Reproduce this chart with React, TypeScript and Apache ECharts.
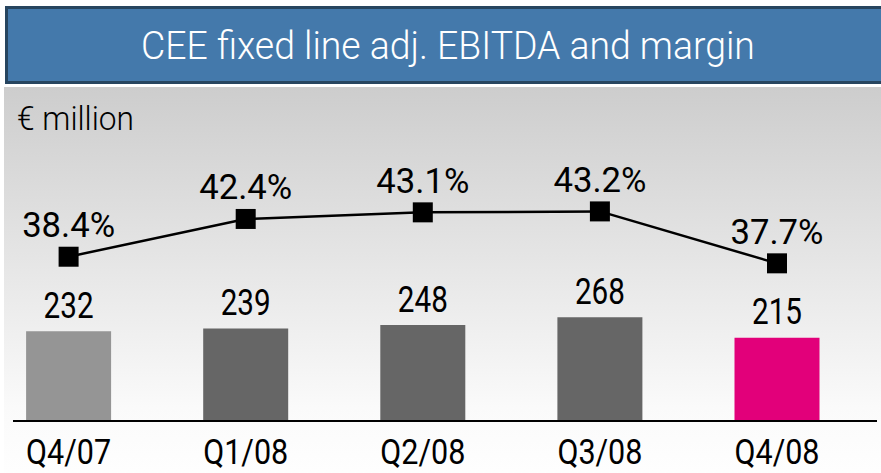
import React, { useEffect, useRef } from "react";
import * as echarts from "echarts";

const categories = ["Q4/07", "Q1/08", "Q2/08", "Q3/08", "Q4/08"];
const ebitda = [232, 239, 248, 268, 215];
const margin = [38.4, 42.4, 43.1, 43.2, 37.7];
const barColors = ["#959595", "#666666", "#666666", "#666666", "#e2007a"];
const titleText = "CEE fixed line adj. EBITDA and margin";
const unitText = "€ million";

const FONT = "Roboto, 'Liberation Sans', sans-serif";
const LABEL_WEIGHT = 400;
const HEAD_WEIGHT = 300;

function measure(text: string, size: number, weight: number): number {
  const c = document.createElement("canvas").getContext("2d")!;
  c.font = `${weight} ${size}px ${FONT}`;
  return c.measureText(text).width || 1;
}

export default function App() {
  const ref = useRef<HTMLDivElement>(null);
  useEffect(() => {
    document.body.style.margin = "0";
    const chart = echarts.init(ref.current!, null, { renderer: "svg" });

    const LBL = 36;
    const barScale = 50 / measure("232", LBL, LABEL_WEIGHT);
    const pctScale = 93 / measure("38.4%", LBL, LABEL_WEIGHT);
    const catScale = 85 / measure("Q1/08", 35, LABEL_WEIGHT);
    const titleScale = 614 / measure(titleText, 39, HEAD_WEIGHT);
    const unitScale = 117 / measure(unitText, 34, HEAD_WEIGHT);

    const textItem = (x: number, y: number, text: string, size: number, scale: number) => ({
      type: "text",
      x,
      y,
      scaleX: scale,
      style: {
        text,
        fill: "#000000",
        font: `${LABEL_WEIGHT} ${size}px ${FONT}`,
        align: "center",
        verticalAlign: "middle",
      },
    });

    chart.setOption({
      animation: false,
      textStyle: { fontFamily: FONT },
      graphic: [
        {
          type: "rect",
          z: -10,
          shape: { x: 4, y: 87, width: 900, height: 400 },
          style: {
            fill: new echarts.graphic.LinearGradient(0, 0, 0, 1, [
              { offset: 0, color: "#cdcdcd" },
              { offset: 0.8, color: "#fafafa" },
              { offset: 1, color: "#ffffff" },
            ]),
          },
        },
        {
          type: "rect",
          z: -5,
          shape: { x: 6.5, y: 7.5, width: 900, height: 75 },
          style: { fill: "#4479ab", stroke: "#27455f", lineWidth: 3 },
        },
        {
          type: "text",
          z: 5,
          x: 448,
          y: 45.5,
          scaleX: titleScale,
          style: {
            text: titleText,
            fill: "#ffffff",
            font: `${HEAD_WEIGHT} 39px ${FONT}`,
            align: "center",
            verticalAlign: "middle",
          },
        },
        {
          type: "text",
          z: 5,
          x: 17,
          y: 118.5,
          scaleX: unitScale,
          style: {
            text: unitText,
            fill: "#000000",
            font: `${HEAD_WEIGHT} 34px ${FONT}`,
            align: "left",
            verticalAlign: "middle",
          },
        },
        {
          type: "line",
          z: 10,
          shape: { x1: 13, y1: 421, x2: 877, y2: 421 },
          style: { stroke: "#000000", lineWidth: 2 },
        },
      ],
      grid: { left: 68.6, right: 104, top: 100, bottom: 52 },
      xAxis: {
        type: "category",
        data: categories,
        boundaryGap: false,
        axisLine: { show: false },
        axisTick: { show: false },
        axisLabel: { show: false },
      },
      yAxis: [
        { type: "value", min: 0, max: 830, show: false },
        { type: "value", min: 21, max: 55, show: false },
      ],
      series: [
        {
          type: "bar",
          yAxisIndex: 0,
          barWidth: 85,
          clip: false,
          data: ebitda.map((v, i) => ({ value: v, itemStyle: { color: barColors[i] } })),
        },
        {
          type: "line",
          yAxisIndex: 1,
          data: margin,
          symbol: "rect",
          symbolSize: 20,
          clip: false,
          lineStyle: { color: "#000000", width: 2.5 },
          itemStyle: { color: "#000000" },
          z: 5,
        },
        {
          type: "custom",
          yAxisIndex: 0,
          clip: false,
          z: 6,
          data: ebitda.map((v, i) => [i, v]),
          renderItem: (params: any, api: any) => {
            const p = api.coord([api.value(0), api.value(1)]);
            return textItem(p[0], p[1] - 26, String(ebitda[params.dataIndex]), LBL, barScale);
          },
        },
        {
          type: "custom",
          yAxisIndex: 1,
          clip: false,
          z: 6,
          data: margin.map((v, i) => [i, v]),
          renderItem: (params: any, api: any) => {
            const p = api.coord([api.value(0), api.value(1)]);
            return textItem(p[0], p[1] - 32, `${margin[params.dataIndex].toFixed(1)}%`, LBL, pctScale);
          },
        },
        {
          type: "custom",
          yAxisIndex: 0,
          clip: false,
          z: 6,
          data: categories.map((_, i) => [i, 0]),
          renderItem: (params: any, api: any) => {
            const p = api.coord([api.value(0), 0]);
            return textItem(p[0], p[1] + 31, categories[params.dataIndex], 35, catScale);
          },
        },
      ],
    });
    return () => chart.dispose();
  }, []);
  return <div ref={ref} style={{ width: 881, height: 473 }} />;
}
